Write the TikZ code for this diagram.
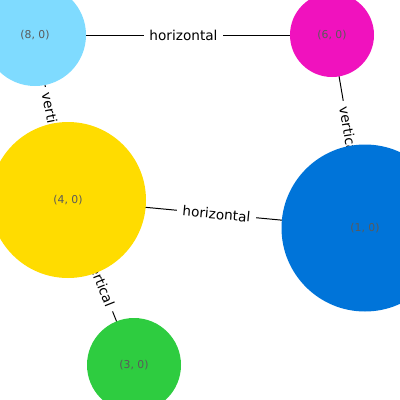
\documentclass[tikz,border=0pt]{standalone}
\usepackage{fontspec}
\setmainfont{DejaVu Sans}
\usetikzlibrary{backgrounds}
\definecolor{cLight}{HTML}{7FDBFF}
\definecolor{cMag}{HTML}{F012BE}
\definecolor{cYel}{HTML}{FFDC00}
\definecolor{cBlue}{HTML}{0074D9}
\definecolor{cGreen}{HTML}{2ECC40}
\definecolor{cTxt}{HTML}{5A5A5A}
\tikzset{
  vnode/.style={circle, draw=none, inner sep=0pt, text=cTxt, font=\fontsize{7.7}{9}\selectfont},
  edge/.style={draw=black, line width=0.7pt},
  elabel/.style={fill=white, inner xsep=4pt, inner ysep=1.5pt, sloped, midway, font=\fontsize{9.7}{11}\selectfont}
}
\begin{document}
\begin{tikzpicture}[x=0.25mm, y=-0.25mm]
\useasboundingbox (0,0) rectangle (400,400);
\clip (0,0) rectangle (400,400);
\node[vnode, fill=cLight, minimum size=102*0.25mm] (n8) at (35,35) {(8, 0)};
\node[vnode, fill=cMag, minimum size=84*0.25mm] (n6) at (332,35) {(6, 0)};
\node[vnode, fill=cYel, minimum size=156*0.25mm] (n4) at (68,200) {(4, 0)};
\node[vnode, fill=cBlue, minimum size=167*0.25mm] (n1) at (365,228) {(1, 0)};
\node[vnode, fill=cGreen, minimum size=94*0.25mm] (n3) at (134,365) {(3, 0)};
\begin{scope}[on background layer]
\draw[edge] (n8.center) -- node[elabel] (l86) {horizontal} (n6.center);
\draw[edge] (n8.center) -- node[elabel] (l84) {vertical} (n4.center);
\draw[edge] (n6.center) -- node[elabel] (l61) {vertical} (n1.center);
\draw[edge] (n4.center) -- node[elabel] (l41) {horizontal} (n1.center);
\draw[edge] (n4.center) -- node[elabel] (l43) {vertical} (n3.center);
\end{scope}
\end{tikzpicture}
\end{document}
